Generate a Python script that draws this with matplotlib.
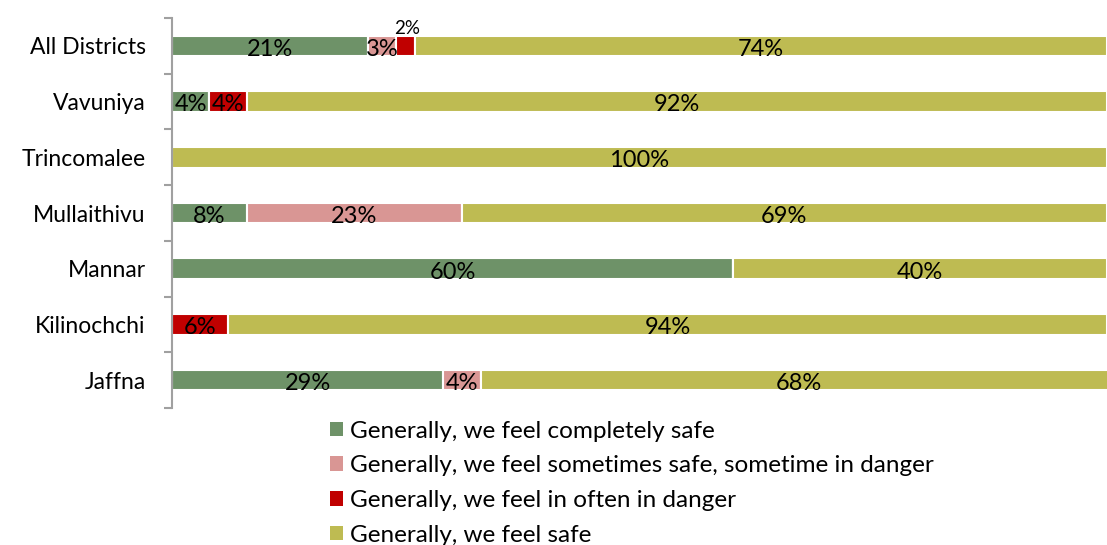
import numpy as np
import matplotlib.pyplot as plt
from matplotlib.patches import Patch

plt.rcParams['font.family'] = ['Lato', 'DejaVu Sans']

# data (percent), top to bottom as in the picture
districts = ['All Districts', 'Vavuniya', 'Trincomalee', 'Mullaithivu',
             'Mannar', 'Kilinochchi', 'Jaffna']
completely_safe = [21, 4, 0, 8, 60, 0, 29]
sometimes_safe = [3, 0, 0, 23, 0, 0, 4]
often_danger = [2, 4, 0, 0, 0, 6, 0]
feel_safe = [74, 92, 100, 69, 40, 94, 68]

series_names = ['Generally, we feel completely safe',
                'Generally, we feel sometimes safe, sometime in danger',
                'Generally, we feel in often in danger',
                'Generally, we feel safe']
colors = ['#6E9268', '#D99694', '#C00000', '#BEBB52']

series = [completely_safe, sometimes_safe, often_danger, feel_safe]

fig = plt.figure(figsize=(11.07, 5.45), dpi=100)
ax = fig.add_axes([172/1107, 1 - 408/545, 1 - 172/1107, 390/545])

y = np.arange(len(districts))
left = np.zeros(len(districts))
for vals, col in zip(series, colors):
    vals = np.array(vals, dtype=float)
    ax.barh(y, vals, left=left, height=0.37, color=col,
            edgecolor='white', linewidth=1.5)
    for i, v in enumerate(vals):
        if v <= 0:
            continue
        cx = left[i] + v / 2
        if v < 2.5 and districts[i] == 'All Districts':
            # small segment: label above the bar
            ax.annotate('%d%%' % v, (cx, y[i] - 0.19), xytext=(1, -1),
                        textcoords='offset points', ha='center', va='bottom',
                        fontsize=13.5)
        else:
            ax.text(cx, y[i] + 0.06, '%d%%' % v, ha='center', va='center',
                    fontsize=17)
    left += vals

ax.set_xlim(0, 100)
ax.set_ylim(len(districts) - 0.5, -0.5)
ax.set_yticks(y)
ax.set_yticklabels(districts, fontsize=16.5)
ax.set_yticks(np.arange(-0.5, len(districts)), minor=True)
ax.tick_params(axis='y', which='major', length=0, pad=19)
ax.tick_params(axis='y', which='minor', length=6, width=1.5, color='#A0A0A0')
ax.set_xticks([])
for s in ['top', 'right', 'bottom']:
    ax.spines[s].set_visible(False)
ax.spines['left'].set_color('#A0A0A0')
ax.spines['left'].set_linewidth(1.5)

handles = [Patch(facecolor=c, edgecolor='none') for c in colors]
fig.legend(handles, series_names, loc='upper left',
           bbox_to_anchor=(320/1107, 1 - 411/545), frameon=False,
           fontsize=17.5, handlelength=0.55, handleheight=0.55,
           handletextpad=0.3, labelspacing=0.56, borderaxespad=0)

fig.savefig('out.png', dpi=100)
